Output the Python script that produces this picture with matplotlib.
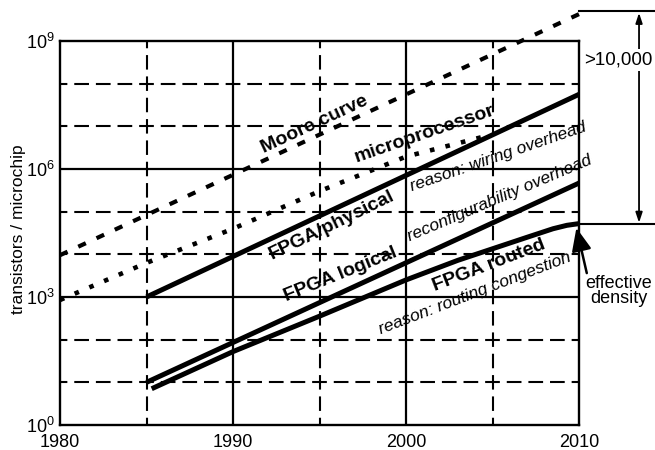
import matplotlib.pyplot as plt

plt.rcParams['font.family'] = ['Liberation Sans', 'DejaVu Sans']
plt.rcParams['mathtext.fontset'] = 'custom'
plt.rcParams['mathtext.rm'] = 'Liberation Sans'
plt.rcParams['mathtext.bf'] = 'Liberation Sans:bold'
plt.rcParams['lines.scale_dashes'] = False

# log10(transistors per chip) over the years
moore_years = [1980, 2010]
moore_log = [3.98, 9.63]

micro_years = [1980, 1985, 1990, 1995, 2000, 2004.6]
micro_log = [2.93, 3.80, 4.60, 5.48, 6.29, 6.77]

phys_years = [1985, 2010]
phys_log = [3.0, 7.75]

logical_years = [1985, 2010]
logical_log = [1.0, 5.67]

routed_years = [1985.3, 1990, 1995, 2000, 2003, 2005, 2007, 2008.5, 2009.3, 2010]
routed_log = [0.85, 1.72, 2.55, 3.40, 3.86, 4.13, 4.40, 4.60, 4.68, 4.72]

x_ticks = [1980, 1990, 2000, 2010]
y_tick_exp = [0, 3, 6, 9]

W, H = 655, 450
fig = plt.figure(figsize=(W / 100, H / 100), dpi=100)
ax = fig.add_axes([60 / W, 25 / H, 519 / W, 384 / H])
ax.set_yscale('log')
ax.set_xlim(1980, 2010)
ax.set_ylim(1, 1e9)


def pw(v):
    return [10 ** e for e in v]


# grid: solid every 10 years / 3 decades, dashed in between,
# dash pattern lined up so a dash sits on each crossing
px_per_5yr = 519 / 6 * 0.72
px_per_dec = 384 / 9 * 0.72
hp = px_per_5yr / 4
vp = px_per_dec / 2
for e in range(1, 9):
    if e in (3, 6):
        ax.axhline(10 ** e, color='k', lw=1.6, zorder=1)
    else:
        ax.axhline(10 ** e, color='k', lw=1.5, zorder=1,
                   linestyle=(0.68 * hp / 2, (0.68 * hp, 0.32 * hp)))
for yr in range(1985, 2010, 5):
    if yr % 10 == 0:
        ax.axvline(yr, color='k', lw=1.6, zorder=1)
    else:
        ax.axvline(yr, color='k', lw=1.5, zorder=1,
                   linestyle=(0.68 * vp / 2, (0.68 * vp, 0.32 * vp)))

for s in ax.spines.values():
    s.set_linewidth(1.7)
    s.set_zorder(3)

# curves
ax.plot(moore_years, pw(moore_log), color='k', lw=3.0,
        linestyle=(0, (6.0, 8.5)), clip_on=False, zorder=2)
ax.plot(micro_years, pw(micro_log), color='k', lw=3.3,
        linestyle=(0, (3.3, 8.2)), zorder=2)
ax.plot(phys_years, pw(phys_log), color='k', lw=3.6,
        solid_capstyle='butt', zorder=2)
ax.plot(logical_years, pw(logical_log), color='k', lw=3.6,
        solid_capstyle='butt', zorder=2)
ax.plot(routed_years, pw(routed_log), color='k', lw=3.6,
        solid_capstyle='butt', solid_joinstyle='round', zorder=2)

# curve labels
bold_labels = [
    ('Moore curve', 1994.7, 7.05, 25),
    ('microprocessor', 2001.1, 6.82, 19),
    ('FPGA/physical', 1995.7, 4.69, 26),
    ('FPGA logical', 1996.2, 3.52, 22),
    ('FPGA routed', 2004.8, 3.73, 21),
]
for txt, x, e, rot in bold_labels:
    ax.text(x, 10 ** e, txt, fontsize=14, fontweight='bold', rotation=rot,
            rotation_mode='anchor', ha='center', va='center', zorder=4)

reason_labels = [
    ('reason: wiring overhead', 2005.3, 6.28, 19),
    ('reconfigurability overhead', 2005.4, 5.31, 23),
    ('reason: routing congestion', 2004.0, 3.09, 21),
]
for txt, x, e, rot in reason_labels:
    ax.text(x, 10 ** e, txt, fontsize=12.5, style='italic',
            rotation=rot, rotation_mode='anchor', ha='center', va='center',
            clip_on=False, zorder=4)

# gap between Moore and routed FPGA at 2010
ax.plot([2010, 2015], [10 ** 9.70] * 2, color='k', lw=1.5, clip_on=False)
ax.plot([2010, 2015], [10 ** 4.72] * 2, color='k', lw=1.5, clip_on=False)
ax.annotate('', xy=(2013.47, 10 ** 9.66), xytext=(2013.47, 10 ** 4.74),
            arrowprops=dict(arrowstyle='<|-|>,head_length=0.6,head_width=0.2',
                            mutation_scale=10, lw=1.3, color='k',
                            shrinkA=0, shrinkB=0),
            annotation_clip=False)
fig.text(618 / W, 1 - 60 / H, '>10,000', fontsize=13.5,
         ha='center', va='center', zorder=5,
         bbox=dict(facecolor='white', edgecolor='none', pad=1.5))

ax.annotate('', xy=(2009.85, 10 ** 4.62), xytext=(2010.45, 10 ** 3.56),
            arrowprops=dict(arrowstyle='-|>,head_length=0.7,head_width=0.3',
                            mutation_scale=20, lw=1.8, color='k',
                            shrinkA=0, shrinkB=0),
            annotation_clip=False)
fig.text(619 / W, 1 - 291 / H, 'effective\ndensity', fontsize=13,
         ha='center', va='center', linespacing=0.85)

# axes text
ax.set_xticks(x_ticks)
ax.set_xticklabels([str(v) for v in x_ticks])
ax.set_yticks([10 ** e for e in y_tick_exp])
ax.set_yticklabels([r'$\mathregular{10^{%d}}$' % e for e in y_tick_exp])
ax.minorticks_off()
ax.tick_params(length=0, labelsize=13)
ax.tick_params(axis='x', pad=6.5)
ax.tick_params(axis='y', pad=4)
fig.text(18.5 / W, 1 - 229 / H, 'transistors / microchip', fontsize=12.5,
         rotation=90, ha='center', va='center')

fig.savefig('out.png', dpi=100)
